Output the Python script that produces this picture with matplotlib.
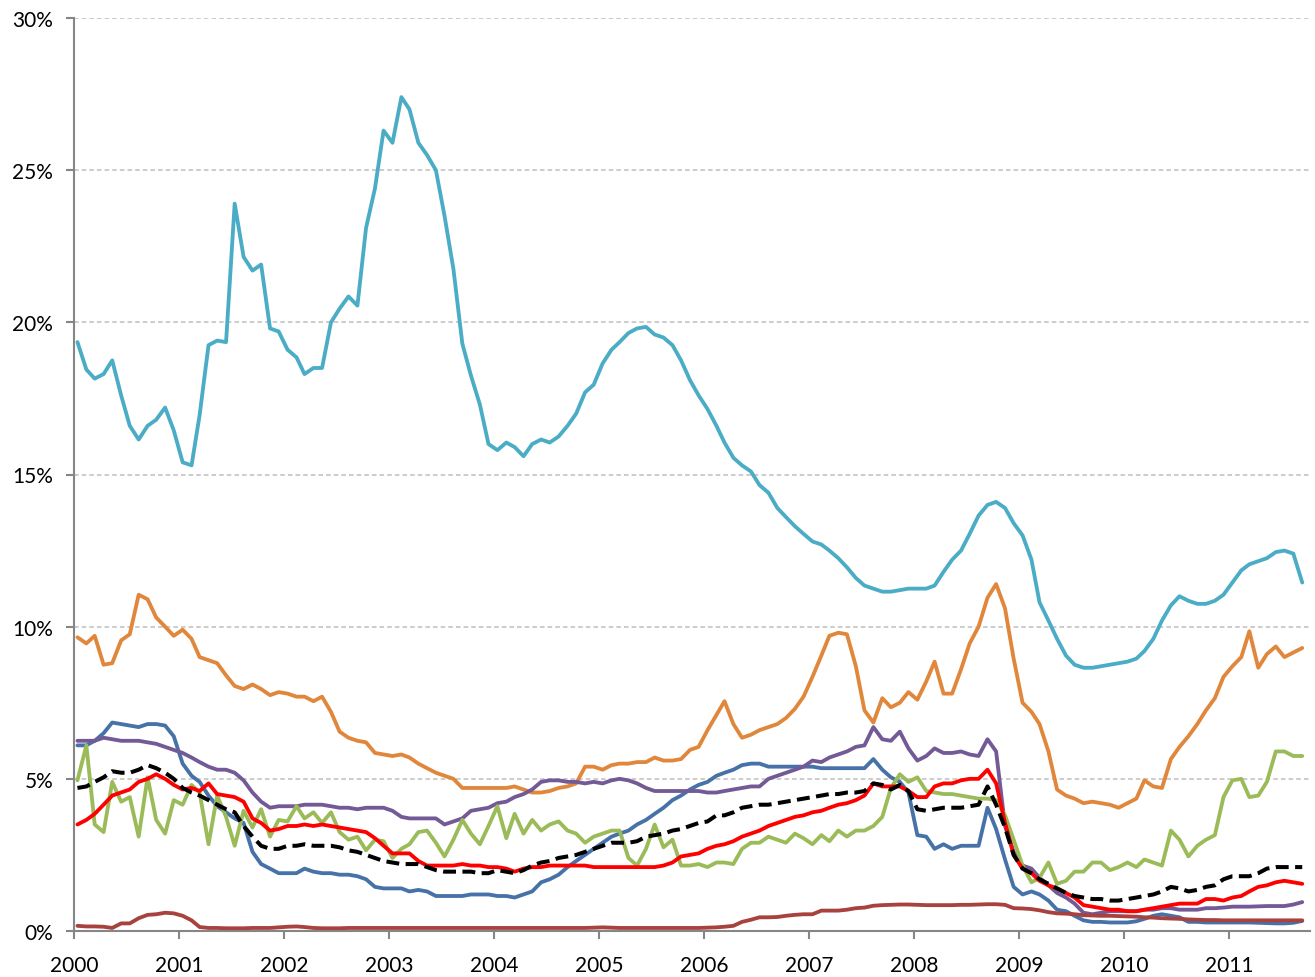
#!/usr/bin/env python3
"""
Monthly rates 2000 - Sep 2011, several series plus a dashed average line.
"""

import numpy as np
import pandas as pd
import matplotlib
matplotlib.use('Agg')
import matplotlib.pyplot as plt
import matplotlib.dates as mdates
from matplotlib.ticker import MultipleLocator, FuncFormatter

plt.rcParams['font.family'] = ['Lato', 'DejaVu Sans']

# monthly points, Jan 2000 .. Sep 2011 (values in %)
dates = pd.date_range('2000-01-01', periods=141, freq='MS') + pd.Timedelta(days=12)

cyan_vals = [
    19.35, 18.45, 18.15, 18.3, 18.75, 17.6, 16.6, 16.15, 16.6, 16.8, 17.2, 16.45,
    15.4, 15.3, 16.95, 19.25, 19.4, 19.35, 23.9, 22.15, 21.7, 21.9, 19.8, 19.7,
    19.1, 18.85, 18.3, 18.5, 18.5, 20.0, 20.45, 20.85, 20.55, 23.1, 24.4, 26.3,
    25.9, 27.4, 27.0, 25.9, 25.5, 25.0, 23.5, 21.75, 19.3, 18.25, 17.3, 16.0,
    15.8, 16.05, 15.9, 15.6, 16.0, 16.15, 16.05, 16.25, 16.6, 17.0, 17.7, 17.95,
    18.65, 19.1, 19.35, 19.65, 19.8, 19.85, 19.6, 19.5, 19.25, 18.75, 18.1, 17.6,
    17.15, 16.6, 16.05, 15.55, 15.3, 15.1, 14.65, 14.4, 13.9, 13.6, 13.3, 13.05,
    12.8, 12.7, 12.5, 12.25, 11.95, 11.6, 11.35, 11.25, 11.15, 11.15, 11.2, 11.25,
    11.25, 11.25, 11.35, 11.8, 12.2, 12.5, 13.05, 13.65, 14.0, 14.1, 13.9, 13.4,
    13.0, 12.2, 10.8, 10.2, 9.6, 9.05, 8.75, 8.65, 8.65, 8.7, 8.75, 8.8,
    8.85, 8.95, 9.2, 9.6, 10.2, 10.7, 11.0, 10.85, 10.75, 10.75, 10.85, 11.05,
    11.45, 11.85, 12.05, 12.15, 12.25, 12.45, 12.5, 12.4, 11.45,
]

orange_vals = [
    9.65, 9.45, 9.7, 8.75, 8.8, 9.55, 9.75, 11.05, 10.9, 10.3, 10.0, 9.7,
    9.9, 9.6, 9.0, 8.9, 8.8, 8.4, 8.05, 7.95, 8.1, 7.95, 7.75, 7.85,
    7.8, 7.7, 7.7, 7.55, 7.7, 7.2, 6.55, 6.35, 6.25, 6.2, 5.85, 5.8,
    5.75, 5.8, 5.7, 5.5, 5.35, 5.2, 5.1, 5.0, 4.7, 4.7, 4.7, 4.7,
    4.7, 4.7, 4.75, 4.65, 4.55, 4.55, 4.6, 4.7, 4.75, 4.85, 5.4, 5.4,
    5.3, 5.45, 5.5, 5.5, 5.55, 5.55, 5.7, 5.6, 5.6, 5.65, 5.95, 6.05,
    6.6, 7.1, 7.55, 6.8, 6.35, 6.45, 6.6, 6.7, 6.8, 7.0, 7.3, 7.7,
    8.35, 9.05, 9.7, 9.8, 9.75, 8.7, 7.25, 6.85, 7.65, 7.35, 7.5, 7.85,
    7.6, 8.2, 8.85, 7.8, 7.8, 8.6, 9.45, 10.0, 10.95, 11.4, 10.6, 8.95,
    7.5, 7.2, 6.8, 5.9, 4.65, 4.45, 4.35, 4.2, 4.25, 4.2, 4.15, 4.05,
    4.2, 4.35, 4.95, 4.75, 4.7, 5.65, 6.05, 6.4, 6.8, 7.25, 7.65, 8.35,
    8.7, 9.0, 9.85, 8.65, 9.1, 9.35, 9.0, 9.15, 9.3,
]

blue_vals = [
    6.1, 6.1, 6.25, 6.5, 6.85, 6.8, 6.75, 6.7, 6.8, 6.8, 6.75, 6.4,
    5.5, 5.1, 4.9, 4.45, 4.1, 3.9, 3.7, 3.55, 2.6, 2.2, 2.05, 1.9,
    1.9, 1.9, 2.05, 1.95, 1.9, 1.9, 1.85, 1.85, 1.8, 1.7, 1.45, 1.4,
    1.4, 1.4, 1.3, 1.35, 1.3, 1.15, 1.15, 1.15, 1.15, 1.2, 1.2, 1.2,
    1.15, 1.15, 1.1, 1.2, 1.3, 1.6, 1.7, 1.85, 2.1, 2.3, 2.5, 2.7,
    2.9, 3.1, 3.2, 3.3, 3.5, 3.65, 3.85, 4.05, 4.3, 4.45, 4.65, 4.8,
    4.9, 5.1, 5.2, 5.3, 5.45, 5.5, 5.5, 5.4, 5.4, 5.4, 5.4, 5.4,
    5.4, 5.35, 5.35, 5.35, 5.35, 5.35, 5.35, 5.65, 5.3, 5.05, 4.9, 4.55,
    3.15, 3.1, 2.7, 2.85, 2.7, 2.8, 2.8, 2.8, 4.05, 3.35, 2.35, 1.45,
    1.2, 1.3, 1.2, 1.0, 0.7, 0.65, 0.5, 0.35, 0.3, 0.3, 0.28, 0.28,
    0.28, 0.32, 0.4, 0.5, 0.55, 0.5, 0.45, 0.3, 0.3, 0.28, 0.28, 0.28,
    0.28, 0.28, 0.28, 0.27, 0.26, 0.25, 0.25, 0.27, 0.33,
]

purple_vals = [
    6.25, 6.25, 6.25, 6.35, 6.3, 6.25, 6.25, 6.25, 6.2, 6.15, 6.05, 5.95,
    5.85, 5.7, 5.55, 5.4, 5.3, 5.3, 5.2, 4.95, 4.55, 4.25, 4.05, 4.1,
    4.1, 4.1, 4.15, 4.15, 4.15, 4.1, 4.05, 4.05, 4.0, 4.05, 4.05, 4.05,
    3.95, 3.75, 3.7, 3.7, 3.7, 3.7, 3.5, 3.6, 3.7, 3.95, 4.0, 4.05,
    4.2, 4.25, 4.4, 4.5, 4.65, 4.9, 4.95, 4.95, 4.9, 4.9, 4.85, 4.9,
    4.85, 4.95, 5.0, 4.95, 4.85, 4.7, 4.6, 4.6, 4.6, 4.6, 4.6, 4.6,
    4.55, 4.55, 4.6, 4.65, 4.7, 4.75, 4.75, 5.0, 5.1, 5.2, 5.3, 5.4,
    5.6, 5.55, 5.7, 5.8, 5.9, 6.05, 6.1, 6.7, 6.3, 6.25, 6.55, 6.0,
    5.6, 5.75, 6.0, 5.85, 5.85, 5.9, 5.8, 5.75, 6.3, 5.9, 3.45, 2.6,
    2.15, 2.05, 1.75, 1.5, 1.25, 1.1, 0.9, 0.6, 0.55, 0.6, 0.65, 0.65,
    0.65, 0.65, 0.7, 0.7, 0.75, 0.75, 0.7, 0.7, 0.7, 0.75, 0.75, 0.77,
    0.8, 0.8, 0.8, 0.81, 0.82, 0.82, 0.82, 0.87, 0.95,
]

green_vals = [
    4.95, 6.1, 3.5, 3.25, 4.9, 4.25, 4.4, 3.1, 5.05, 3.65, 3.2, 4.3,
    4.15, 4.8, 4.55, 2.85, 4.45, 3.75, 2.8, 3.95, 3.4, 4.0, 3.1, 3.65,
    3.6, 4.1, 3.7, 3.9, 3.55, 3.9, 3.25, 3.0, 3.1, 2.65, 3.0, 2.95,
    2.4, 2.7, 2.85, 3.25, 3.3, 2.9, 2.45, 3.0, 3.65, 3.2, 2.85, 3.45,
    4.1, 3.05, 3.85, 3.2, 3.65, 3.3, 3.5, 3.6, 3.3, 3.2, 2.9, 3.1,
    3.2, 3.3, 3.3, 2.4, 2.15, 2.7, 3.5, 2.75, 3.0, 2.15, 2.15, 2.2,
    2.1, 2.25, 2.25, 2.2, 2.7, 2.9, 2.9, 3.1, 3.0, 2.9, 3.2, 3.05,
    2.85, 3.15, 2.95, 3.3, 3.1, 3.3, 3.3, 3.45, 3.75, 4.7, 5.15, 4.9,
    5.05, 4.6, 4.55, 4.5, 4.5, 4.45, 4.4, 4.35, 4.35, 4.3, 3.8, 3.0,
    2.15, 1.6, 1.75, 2.25, 1.55, 1.65, 1.95, 1.95, 2.25, 2.25, 2.0, 2.1,
    2.25, 2.1, 2.35, 2.25, 2.15, 3.3, 3.0, 2.45, 2.8, 3.0, 3.15, 4.4,
    4.95, 5.0, 4.4, 4.45, 4.9, 5.9, 5.9, 5.75, 5.75,
]

red_vals = [
    3.5, 3.65, 3.85, 4.15, 4.45, 4.55, 4.65, 4.9, 5.0, 5.15, 5.0, 4.8,
    4.65, 4.7, 4.6, 4.85, 4.5, 4.45, 4.4, 4.25, 3.7, 3.55, 3.3, 3.35,
    3.45, 3.45, 3.5, 3.45, 3.5, 3.45, 3.4, 3.35, 3.3, 3.25, 3.05, 2.8,
    2.55, 2.55, 2.55, 2.3, 2.15, 2.15, 2.15, 2.15, 2.2, 2.15, 2.15, 2.1,
    2.1, 2.05, 1.95, 2.05, 2.1, 2.1, 2.15, 2.15, 2.15, 2.15, 2.15, 2.1,
    2.1, 2.1, 2.1, 2.1, 2.1, 2.1, 2.1, 2.15, 2.25, 2.45, 2.5, 2.55,
    2.7, 2.8, 2.85, 2.95, 3.1, 3.2, 3.3, 3.45, 3.55, 3.65, 3.75, 3.8,
    3.9, 3.95, 4.05, 4.15, 4.2, 4.3, 4.45, 4.85, 4.75, 4.75, 4.75, 4.6,
    4.4, 4.4, 4.75, 4.85, 4.85, 4.95, 5.0, 5.0, 5.3, 4.85, 3.55, 2.5,
    2.05, 1.9, 1.65, 1.5, 1.4, 1.25, 1.1, 0.85, 0.8, 0.75, 0.7, 0.7,
    0.65, 0.65, 0.7, 0.75, 0.8, 0.85, 0.9, 0.9, 0.9, 1.05, 1.05, 1.0,
    1.1, 1.15, 1.3, 1.45, 1.5, 1.6, 1.65, 1.6, 1.55,
]

avg_vals = [
    4.7, 4.75, 4.9, 5.05, 5.25, 5.2, 5.2, 5.3, 5.45, 5.35, 5.2, 5.0,
    4.7, 4.55, 4.45, 4.3, 4.15, 4.0, 3.9, 3.45, 3.1, 2.8, 2.7, 2.7,
    2.8, 2.8, 2.85, 2.8, 2.8, 2.8, 2.75, 2.65, 2.6, 2.5, 2.4, 2.3,
    2.25, 2.2, 2.2, 2.2, 2.1, 2.0, 1.95, 1.95, 1.95, 1.95, 1.9, 1.9,
    2.0, 1.95, 1.9, 2.0, 2.15, 2.25, 2.3, 2.4, 2.45, 2.5, 2.6, 2.7,
    2.8, 2.9, 2.9, 2.9, 2.95, 3.1, 3.15, 3.2, 3.3, 3.35, 3.45, 3.55,
    3.6, 3.8, 3.8, 3.9, 4.05, 4.1, 4.15, 4.15, 4.2, 4.25, 4.3, 4.35,
    4.4, 4.45, 4.5, 4.5, 4.55, 4.55, 4.6, 4.85, 4.8, 4.65, 4.8, 4.6,
    4.0, 3.95, 4.0, 4.05, 4.05, 4.05, 4.1, 4.15, 4.75, 4.15, 3.4, 2.5,
    2.05, 1.9, 1.7, 1.55, 1.4, 1.25, 1.15, 1.1, 1.05, 1.05, 1.0, 1.0,
    1.05, 1.1, 1.15, 1.2, 1.3, 1.45, 1.4, 1.3, 1.35, 1.45, 1.5, 1.7,
    1.8, 1.8, 1.8, 1.9, 2.05, 2.1, 2.1, 2.1, 2.1,
]

brown_vals = [
    0.17, 0.15, 0.15, 0.14, 0.1, 0.25, 0.25, 0.42, 0.53, 0.55, 0.6, 0.58,
    0.5, 0.35, 0.13, 0.1, 0.1, 0.09, 0.09, 0.09, 0.1, 0.1, 0.1, 0.12,
    0.14, 0.15, 0.13, 0.1, 0.09, 0.09, 0.09, 0.1, 0.1, 0.1, 0.1, 0.1,
    0.1, 0.1, 0.1, 0.1, 0.1, 0.1, 0.1, 0.1, 0.1, 0.1, 0.1, 0.1,
    0.1, 0.1, 0.1, 0.1, 0.1, 0.1, 0.1, 0.1, 0.1, 0.1, 0.1, 0.11,
    0.12, 0.11, 0.1, 0.1, 0.1, 0.1, 0.1, 0.1, 0.1, 0.1, 0.1, 0.1,
    0.11, 0.12, 0.14, 0.17, 0.3, 0.37, 0.45, 0.45, 0.46, 0.5, 0.53, 0.55,
    0.55, 0.67, 0.67, 0.67, 0.7, 0.75, 0.77, 0.83, 0.85, 0.86, 0.87, 0.87,
    0.86, 0.85, 0.85, 0.85, 0.85, 0.86, 0.86, 0.87, 0.88, 0.88, 0.86, 0.75,
    0.74, 0.72, 0.68, 0.62, 0.58, 0.57, 0.55, 0.52, 0.51, 0.5, 0.5, 0.49,
    0.48, 0.47, 0.45, 0.44, 0.42, 0.41, 0.4, 0.38, 0.37, 0.36, 0.36, 0.35,
    0.35, 0.35, 0.35, 0.35, 0.35, 0.35, 0.35, 0.35, 0.35,
]

series = [
    (cyan_vals, '#4BACC6'),
    (orange_vals, '#E0873C'),
    (blue_vals, '#4672A8'),
    (purple_vals, '#735A96'),
    (brown_vals, '#A8423F'),
    (green_vals, '#9BBB59'),
    (red_vals, '#FF0000'),
]

fig = plt.figure(figsize=(13.15, 9.78), dpi=100)
ax = fig.add_axes([74 / 1315, 46 / 978, 1236 / 1315, 913 / 978])

for vals, col in series:
    ax.plot(dates, np.array(vals) / 100, color=col, lw=2.75,
            solid_joinstyle='round', solid_capstyle='round')

# average, dashed black
ax.plot(dates, np.array(avg_vals) / 100, color='black', lw=2.9,
        dashes=(3.2, 1.6))

ax.set_ylim(0, 0.30)
ax.set_xlim(pd.Timestamp('2000-01-01'), pd.Timestamp('2011-10-10'))
ax.yaxis.set_major_locator(MultipleLocator(0.05))
ax.yaxis.set_major_formatter(FuncFormatter(lambda v, p: f'{v * 100:.0f}%'))
ax.xaxis.set_major_locator(mdates.YearLocator())
ax.xaxis.set_major_formatter(mdates.DateFormatter('%Y'))

ax.grid(axis='y', color='#BFBFBF', ls=(0, (3, 2)), lw=1.1)
ax.set_axisbelow(True)
for s in ['top', 'right']:
    ax.spines[s].set_visible(False)
for s in ['left', 'bottom']:
    ax.spines[s].set_color('#868686')
    ax.spines[s].set_linewidth(1.5)

ax.tick_params(axis='both', colors='#868686', width=1.5, length=6,
               labelcolor='black', labelsize=15)
ax.tick_params(axis='x', pad=11)
ax.tick_params(axis='y', pad=9)

fig.savefig('out.png', dpi=100)
